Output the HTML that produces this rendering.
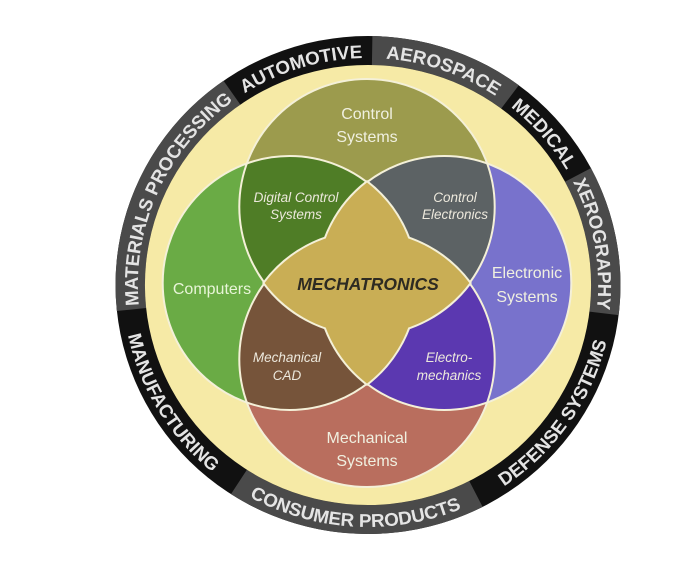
<!DOCTYPE html>
<html><head><meta charset="utf-8"><style>
html,body{margin:0;padding:0;background:#fff;width:700px;height:572px;overflow:hidden}
svg{display:block}
text{font-family:"Liberation Sans",sans-serif}
</style></head><body>
<svg width="700" height="572" viewBox="0 0 700 572" xmlns="http://www.w3.org/2000/svg">
<defs>
<clipPath id="cT"><circle cx="367" cy="206.7" r="127.7"/></clipPath>
<clipPath id="cB"><circle cx="367" cy="359.3" r="127.7"/></clipPath>
<path id="cw" d="M368 512 A227 227 0 0 1 368 58 A227 227 0 0 1 368 512"/>
<path id="ccw" d="M368 43 A242 242 0 0 0 368 527 A242 242 0 0 0 368 43"/>
</defs>
<!-- ring -->
<g transform="translate(368 0) scale(1.014 1) translate(-368 0)">
<circle cx="368" cy="285" r="249" fill="#111"/>
<g fill="none" stroke="#4a4a4a" stroke-width="29">
<circle cx="368" cy="285" r="234.5" stroke-dasharray="146 2000" transform="rotate(-89 368 285)"/>
<circle cx="368" cy="285" r="234.5" stroke-dasharray="143 2000" transform="rotate(-28 368 285)"/>
<circle cx="368" cy="285" r="234.5" stroke-dasharray="245 2000" transform="rotate(63 368 285)"/>
<circle cx="368" cy="285" r="234.5" stroke-dasharray="250 2000" transform="rotate(174 368 285)"/>
</g>
<circle cx="368" cy="285" r="220" fill="#f6eaa6"/>
<g font-size="18.5" font-weight="bold" fill="#e4e4e4" text-anchor="middle">
<text><textPath href="#cw" startOffset="31.8%">MATERIALS PROCESSING</textPath></text>
<text><textPath href="#cw" startOffset="45.3%">AUTOMOTIVE</textPath></text>
<text><textPath href="#cw" startOffset="55.3%">AEROSPACE</textPath></text>
<text><textPath href="#cw" startOffset="63.6%">MEDICAL</textPath></text>
<text><textPath href="#cw" startOffset="72.1%">XEROGRAPHY</textPath></text>
<text><textPath href="#ccw" startOffset="65.3%">DEFENSE SYSTEMS</textPath></text>
<text><textPath href="#ccw" startOffset="49.1%">CONSUMER PRODUCTS</textPath></text>
<text><textPath href="#ccw" startOffset="33.7%">MANUFACTURING</textPath></text>
</g>
</g>
<!-- circles -->
<circle cx="367" cy="206.7" r="127.7" fill="#9c9b4d"/>
<circle cx="367" cy="359.3" r="127.7" fill="#b96e5e"/>
<circle cx="289.7" cy="283" r="127" fill="#6aab45"/>
<circle cx="444.3" cy="283" r="127" fill="#7872cc"/>
<g clip-path="url(#cT)"><circle cx="289.7" cy="283" r="127" fill="#4f7d26"/><circle cx="444.3" cy="283" r="127" fill="#5c6264"/></g>
<g clip-path="url(#cB)"><circle cx="289.7" cy="283" r="127" fill="#76543a"/><circle cx="444.3" cy="283" r="127" fill="#5b38b0"/></g>
<g fill="none" stroke="#f4f0d8" stroke-width="2">
<circle cx="367" cy="206.7" r="127.7"/><circle cx="367" cy="359.3" r="127.7"/>
<circle cx="289.7" cy="283" r="127"/><circle cx="444.3" cy="283" r="127"/>
</g>
<g fill="#c9ae55" stroke="#f4f0d8" stroke-width="4">
<path d="M367 182.5 A127 127 0 0 1 367 383.5 A127 127 0 0 1 367 182.5Z"/>
<path d="M264.6 283 A127.7 127.7 0 0 1 469.4 283 A127.7 127.7 0 0 1 264.6 283Z"/>
</g>
<g fill="#c9ae55">
<path d="M367 182.5 A127 127 0 0 1 367 383.5 A127 127 0 0 1 367 182.5Z"/>
<path d="M264.6 283 A127.7 127.7 0 0 1 469.4 283 A127.7 127.7 0 0 1 264.6 283Z"/>
</g>
<!-- labels -->
<g font-size="16" fill="#f0f0e0" text-anchor="middle">
<text x="367" y="119">Control</text><text x="367" y="142">Systems</text>
<text x="212" y="294" fill="#e8f5d8">Computers</text>
<text x="527" y="278">Electronic</text><text x="527" y="302">Systems</text>
<text x="367" y="443">Mechanical</text><text x="367" y="466">Systems</text>
</g>
<g font-size="13.5" font-style="italic" fill="#ece8dc" text-anchor="middle">
<text x="296" y="202">Digital Control</text><text x="296" y="219">Systems</text>
<text x="455" y="202">Control</text><text x="455" y="219">Electronics</text>
<text x="287" y="362">Mechanical</text><text x="287" y="380">CAD</text>
<text x="449" y="362">Electro-</text><text x="449" y="380">mechanics</text>
</g>
<text x="368" y="290" font-size="17.5" font-weight="bold" font-style="italic" fill="#2e2b22" text-anchor="middle">MECHATRONICS</text>
</svg>
</body></html>
